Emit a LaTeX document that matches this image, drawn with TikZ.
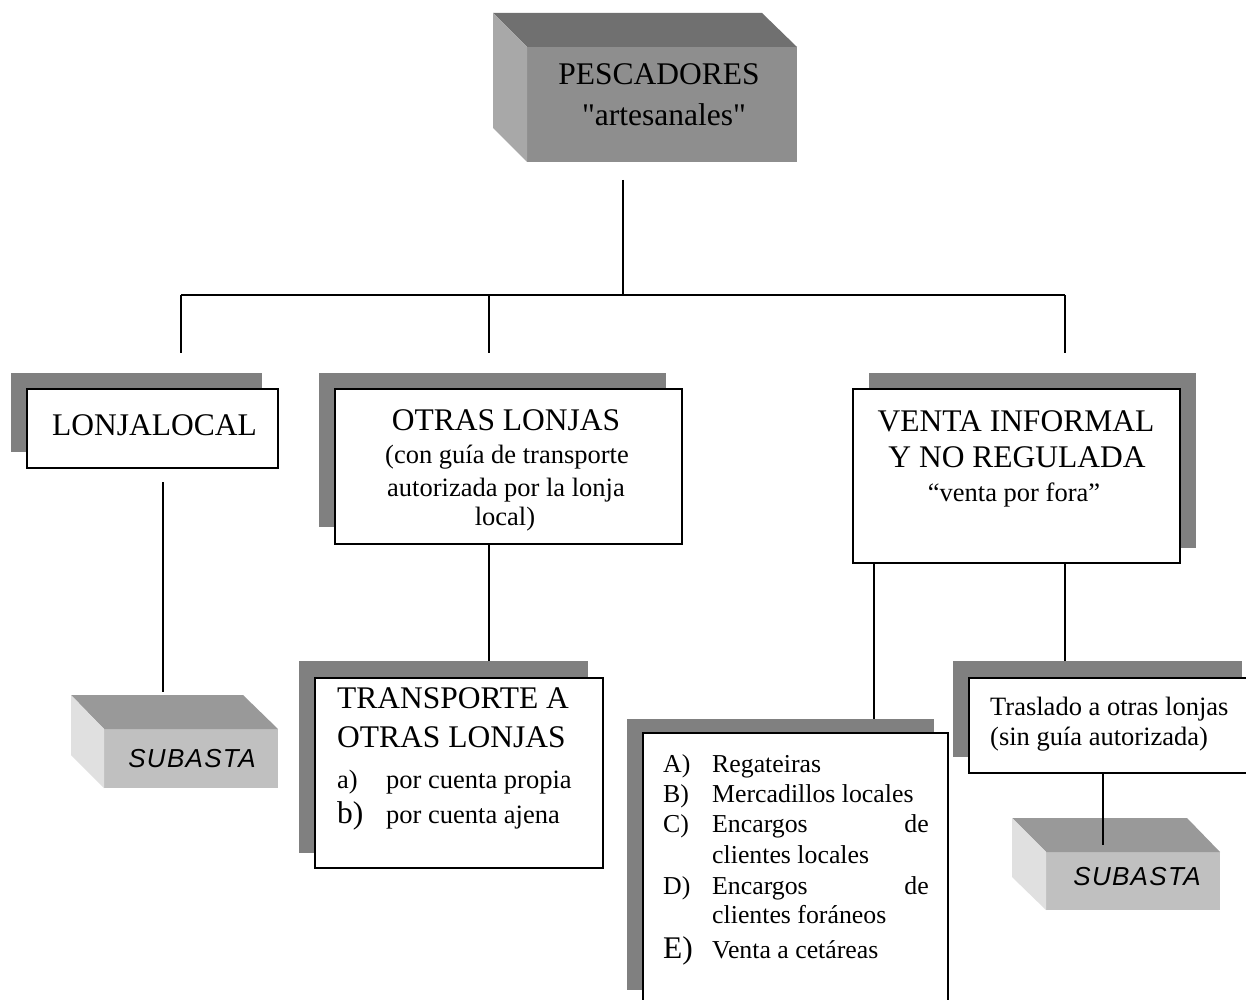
\documentclass[tikz,border=0pt]{standalone}
\usepackage{fontspec}
\setmainfont{Liberation Serif}
\newfontfamily\rawserif{Liberation Serif}[Ligatures=TeXOff]
\newfontfamily\arialfont{Liberation Sans}[LetterSpace=5]
\definecolor{shadowgray}{RGB}{128,128,128}
\definecolor{ptop}{RGB}{112,112,112}
\definecolor{pfront}{RGB}{142,142,142}
\definecolor{pleft}{RGB}{168,168,168}
\definecolor{stop}{RGB}{153,153,153}
\definecolor{sfront}{RGB}{192,192,192}
\definecolor{sleft}{RGB}{224,224,224}
\begin{document}
\begin{tikzpicture}[x=1pt,y=-1pt,
  frontbox/.style={draw=black, line width=1.6pt, fill=white, anchor=north west, inner sep=0pt, outer sep=0pt},
  shadowfill/.style={fill=shadowgray},
  conn/.style={line width=1.6pt},
  bigtxt/.style={font=\fontsize{31.5}{36}\selectfont, inner sep=0pt, anchor=base},
  smalltxt/.style={font=\fontsize{26.5}{31}\selectfont, inner sep=0pt, anchor=base},
  listtxt/.style={font=\fontsize{25.8}{30}\selectfont, inner sep=0pt, anchor=base west},
  subtxt/.style={font=\arialfont\itshape\fontsize{26}{30}\selectfont, inner sep=0pt, anchor=base},
  cubeface/.style={draw=none, anchor=north west, inner sep=0pt, outer sep=0pt}
]
\useasboundingbox (0,0) rectangle (1246,1000);
\clip (0,0) rectangle (1246,1000);
\fill[white] (0,0) rectangle (1246,1000);

% ---------- junction coordinates ----------
\coordinate (top0) at (623,180);
\coordinate (jc) at (623,295);
\coordinate (jl) at (181,295);
\coordinate (jm) at (489,295);
\coordinate (jr) at (1065,295);
\coordinate (sl) at (181,353);
\coordinate (sm) at (489,353);
\coordinate (sr) at (1065,353);
\coordinate (kl) at (163,482);
\coordinate (kv) at (874,719);
\coordinate (kt) at (1103,845);

% ---------- connectors (behind boxes) ----------
\draw[conn] (top0) -- (jc);
\draw[conn] (jl) -- (jr);
\draw[conn] (jl) -- (sl);
\draw[conn] (jm) -- (sm);
\draw[conn] (jr) -- (sr);

% ---------- PESCADORES cube ----------
\node[cubeface, fill=pfront, minimum width=270pt, minimum height=115pt] (pesc) at (527,47) {};
\fill[ptop] (493,13) -- (762,13) -- (pesc.north east) -- (pesc.north west) -- cycle;
\fill[pleft] (493,13) -- (pesc.north west) -- (pesc.south west) -- (493,128) -- cycle;
\node[bigtxt] (pesc1) at (659,85) {PESCADORES};
\node[bigtxt] (pesc2) at (664,126) {{\rawserif"}artesanales{\rawserif"}};

% ---------- LONJA LOCAL ----------
\fill[shadowfill] (11,373) rectangle (262,452);
\node[frontbox, minimum width=251pt, minimum height=79pt] (lonja) at (27,389) {};
\node[bigtxt] (lonjat) at (154.5,435) {LONJALOCAL};

% ---------- OTRAS LONJAS ----------
\fill[shadowfill] (319,373) rectangle (666,527);
\node[frontbox, minimum width=347pt, minimum height=155pt] (otras) at (335,389) {};
\node[bigtxt] (otras1) at (506,430) {OTRAS LONJAS};
\node[smalltxt] (otras2) at (507,463) {(con guía de transporte};
\node[smalltxt] (otras3) at (506,496) {autorizada por la lonja};
\node[smalltxt] (otras4) at (505,525) {local)};

% ---------- VENTA INFORMAL ----------
\fill[shadowfill] (869,373) rectangle (1196,548);
\node[frontbox, minimum width=327pt, minimum height=174pt] (venta) at (853,389) {};
\node[bigtxt] (venta1) at (1016,431) {VENTA INFORMAL};
\node[bigtxt] (venta2) at (1017,467) {Y NO REGULADA};
\node[smalltxt] (venta3) at (1014,501) {“venta por fora”};

% ---------- connectors from level 2 ----------
\draw[conn] (kl) -- (kl |- 0,692);
\draw[conn] (otras.south -| jm) -- (jm |- 0,678);
\draw[conn] (venta.south -| kv) -- (kv);
\draw[conn] (venta.south -| jr) -- (jr |- 0,678);

% ---------- SUBASTA left ----------
\node[cubeface, fill=sfront, minimum width=174pt, minimum height=59pt] (sub1) at (104,729) {};
\fill[stop] (71,695) -- (243,695) -- (sub1.north east) -- (sub1.north west) -- cycle;
\fill[sleft] (71,695) -- (sub1.north west) -- (sub1.south west) -- (71,755) -- cycle;
\node[subtxt] (sub1t) at (192,767) {SUBASTA};

% ---------- TRANSPORTE ----------
\fill[shadowfill] (299,661) rectangle (588,853);
\node[frontbox, minimum width=288pt, minimum height=190pt] (trans) at (315,678) {};
\node[bigtxt, anchor=base west] (tr1) at (337,708) {TRANSPORTE A};
\node[bigtxt, anchor=base west] (tr2) at (337,747) {OTRAS LONJAS};
\node[smalltxt, anchor=base west] (tr3a) at (337,788) {a)};
\node[smalltxt, anchor=base west] (tr3b) at (386,788) {por cuenta propia};
\node[bigtxt, anchor=base west] (tr4a) at (337,823) {b)};
\node[smalltxt, anchor=base west] (tr4b) at (386,823) {por cuenta ajena};

% ---------- LIST box ----------
\fill[shadowfill] (627,719) rectangle (934,990);
\node[frontbox, minimum width=305pt, minimum height=290pt] (lista) at (643,733) {};
\node[listtxt] (la) at (663,772) {A)};
\node[listtxt] (lat) at (712,772) {Regateiras};
\node[listtxt] (lb) at (663,802) {B)};
\node[listtxt] (lbt) at (712,802) {Mercadillos locales};
\node[listtxt] (lc) at (663,832) {C)};
\node[listtxt] (lct) at (712,832) {Encargos};
\node[listtxt, anchor=base east] (lcd) at (929,832) {de};
\node[listtxt] (lct2) at (712,863) {clientes locales};
\node[listtxt] (ld) at (663,894) {D)};
\node[listtxt] (ldt) at (712,894) {Encargos};
\node[listtxt, anchor=base east] (ldd) at (929,894) {de};
\node[listtxt] (ldt2) at (712,923) {clientes foráneos};
\node[bigtxt, anchor=base west] (le) at (663,958) {E)};
\node[listtxt] (let) at (712,958) {Venta a cetáreas};

% ---------- TRASLADO ----------
\fill[shadowfill] (953,661) rectangle (1242,757);
\node[frontbox, minimum width=291pt, minimum height=95pt] (trasl) at (969,678) {};
\node[smalltxt, anchor=base west] (trasl1) at (990,715) {Traslado a otras lonjas};
\node[smalltxt, anchor=base west] (trasl2) at (990,745) {(sin guía autorizada)};

% ---------- SUBASTA right ----------
\node[cubeface, fill=sfront, minimum width=174pt, minimum height=58pt] (sub2) at (1046,852) {};
\fill[stop] (1012,818) -- (1187,818) -- (sub2.north east) -- (sub2.north west) -- cycle;
\fill[sleft] (1012,818) -- (sub2.north west) -- (sub2.south west) -- (1012,877) -- cycle;
\node[subtxt] (sub2t) at (1137,885) {SUBASTA};
\draw[conn] (trasl.south -| kt) -- (kt);
\end{tikzpicture}
\end{document}
